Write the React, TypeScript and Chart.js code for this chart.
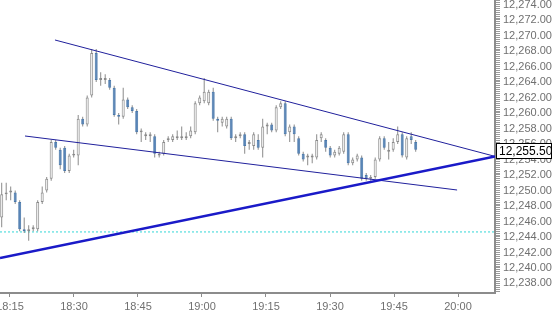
import { useEffect, useRef } from 'react';
import { Chart, registerables } from 'chart.js';

Chart.register(...registerables);

// ---- data: one bar per entry (bar index 0..92) ----
const opens = [
  12246.5, 12249.5, 12249.75, 12249.75, 12248.5, 12245.0, 12244.75, 12245.0, 12245.0, 12248.5,
  12250.0, 12251.5, 12256.25, 12255.25, 12255.5, 12252.5, 12254.5, 12254.5, 12259.25, 12258.5,
  12262.25, 12267.75, 12264.25, 12264.25, 12264.25, 12263.25, 12259.75, 12259.5, 12261.75, 12260.75,
  12260.25, 12257.5, 12257.0, 12257.0, 12257.0, 12254.5, 12254.75, 12256.5, 12256.5, 12256.75,
  12256.75, 12256.75, 12257.0, 12257.5, 12261.25, 12261.5, 12261.25, 12262.75, 12259.25, 12258.75,
  12258.25, 12259.25, 12256.75, 12257.0, 12257.25, 12256.0, 12255.75, 12256.5, 12255.5, 12258.25,
  12258.5, 12257.75, 12260.75, 12261.25, 12257.5, 12258.25, 12256.75, 12254.75, 12254.25, 12254.25,
  12254.25, 12256.75, 12256.5, 12255.5, 12254.5, 12254.75, 12255.0, 12257.25, 12253.5, 12254.0,
  12254.25, 12252.0, 12251.5, 12251.75, 12254.0, 12256.75, 12255.0, 12255.25, 12256.25, 12257.25,
  12254.25, 12257.0, 12256.25,
];
const highs = [
  12251.0, 12251.0, 12250.5, 12250.0, 12248.75, 12246.5, 12245.5, 12245.5, 12248.75, 12250.5,
  12251.75, 12256.5, 12256.5, 12255.5, 12255.75, 12254.75, 12255.25, 12259.75, 12259.5, 12262.25,
  12268.25, 12268.25, 12265.25, 12265.0, 12264.5, 12263.5, 12260.0, 12263.25, 12262.0, 12261.0,
  12260.5, 12258.0, 12257.5, 12257.5, 12257.25, 12255.0, 12256.5, 12257.0, 12257.25, 12257.75,
  12258.25, 12257.5, 12258.25, 12261.5, 12262.25, 12264.5, 12263.0, 12263.25, 12259.5, 12259.5,
  12259.5, 12259.5, 12257.25, 12257.5, 12257.5, 12256.5, 12257.5, 12257.25, 12259.25, 12258.75,
  12258.75, 12261.0, 12261.5, 12261.5, 12258.5, 12258.5, 12257.0, 12255.0, 12254.75, 12254.75,
  12257.25, 12257.5, 12256.75, 12255.75, 12255.25, 12255.75, 12257.5, 12257.5, 12254.25, 12254.75,
  12254.5, 12252.25, 12252.0, 12254.25, 12257.0, 12257.0, 12256.25, 12256.75, 12258.25, 12257.5,
  12257.0, 12257.5, 12256.5,
];
const lows = [
  12245.25, 12248.75, 12248.75, 12248.25, 12244.75, 12244.5, 12243.5, 12244.75, 12244.75, 12248.25,
  12249.75, 12251.25, 12255.25, 12252.75, 12252.25, 12252.25, 12254.25, 12253.25, 12258.25, 12258.25,
  12262.0, 12264.0, 12263.5, 12263.75, 12263.0, 12259.5, 12258.5, 12259.25, 12260.5, 12260.0,
  12257.25, 12256.25, 12256.5, 12256.25, 12254.25, 12254.25, 12254.5, 12256.25, 12256.25, 12256.5,
  12256.5, 12256.5, 12256.75, 12257.25, 12261.0, 12261.25, 12261.0, 12259.0, 12257.5, 12258.25,
  12258.0, 12256.5, 12256.25, 12256.75, 12254.75, 12255.25, 12255.25, 12255.25, 12254.25, 12257.25,
  12257.5, 12257.5, 12260.5, 12257.0, 12256.25, 12256.25, 12254.5, 12253.75, 12253.25, 12253.5,
  12254.0, 12256.25, 12255.0, 12254.25, 12254.25, 12254.5, 12254.75, 12253.25, 12253.25, 12253.75,
  12251.25, 12251.25, 12251.25, 12251.5, 12253.75, 12255.25, 12254.0, 12255.0, 12256.0, 12254.25,
  12254.0, 12256.0, 12255.0,
];
const closes = [
  12249.5, 12249.75, 12250.0, 12248.5, 12245.0, 12244.75, 12245.0, 12245.25, 12248.5, 12249.75,
  12251.5, 12256.25, 12255.5, 12253.25, 12252.5, 12254.5, 12254.75, 12259.25, 12258.5, 12262.0,
  12267.75, 12264.25, 12264.5, 12264.5, 12263.25, 12259.75, 12259.5, 12261.75, 12260.75, 12260.25,
  12257.5, 12257.75, 12257.25, 12257.25, 12254.75, 12254.75, 12256.25, 12256.75, 12257.0, 12257.0,
  12257.0, 12257.0, 12257.75, 12261.25, 12262.0, 12262.75, 12262.75, 12259.25, 12259.0, 12259.25,
  12259.25, 12256.75, 12257.0, 12257.25, 12255.75, 12256.25, 12257.25, 12255.5, 12258.25, 12258.5,
  12257.75, 12260.75, 12261.25, 12257.25, 12258.25, 12257.25, 12254.75, 12254.0, 12254.5, 12254.5,
  12256.5, 12257.25, 12255.5, 12254.5, 12255.0, 12255.5, 12257.25, 12253.5, 12254.0, 12254.5,
  12251.5, 12251.5, 12251.75, 12254.0, 12256.75, 12255.5, 12255.25, 12256.25, 12257.25, 12254.5,
  12256.75, 12256.5, 12255.25,
];

// time axis labels (every 15 minutes)
const xTickLabels = ['18:15', '18:30', '18:45', '19:00', '19:15', '19:30', '19:45', '20:00'];
const firstTickBar = 1.844; // bar position of the 18:15 label
const barsPerTick = 14.222; // bars between two labels

// drawn lines: [bar, price] at both ends
const upperLineBars = [11.84, 109.62];
const upperLinePrices = [12269.42, 12254.4];
const lowerLineBars = [5.18, 101.2];
const lowerLinePrices = [12257.03, 12250.06];
const supportLineBars = [-0.378, 109.62];
const supportLinePrices = [12241.29, 12254.4];
const cyanLevel = 12244.65;
const markerText = 12255.5;
const markerPrice = 12255.05; // where the marker box sits on the price axis

// visible ranges
const xMin = -0.378;
const xMax = 109.62;
const yMin = 12236.77;
const yMax = 12274.58;

const FONT = '"Liberation Sans", Arial, sans-serif';

function fmtPrice(v: number) {
  return v.toLocaleString('en-US', { minimumFractionDigits: 2, maximumFractionDigits: 2 });
}

export default function App() {
  const ref = useRef<HTMLCanvasElement>(null);

  useEffect(() => {
    const canvas = ref.current;
    if (!canvas) return;
    const idx = opens.map((_, i) => i);
    const wicks = idx.map((i) => ({ x: i, y: [lows[i], highs[i]] }));
    const bodies = idx.map((i) => ({ x: i, y: [opens[i], closes[i]] }));
    const up = idx.map((i) => closes[i] >= opens[i]);

    const markerPlugin = {
      id: 'priceMarker',
      afterDraw(chart: any) {
        const ys = chart.scales.y;
        const c = chart.ctx as CanvasRenderingContext2D;
        const y = Math.round(ys.getPixelForValue(markerPrice));
        const left = chart.chartArea.right + 1;
        c.save();
        c.fillStyle = '#ffffff';
        c.fillRect(left, y - 8, 56, 16);
        c.strokeStyle = '#000000';
        c.lineWidth = 1;
        c.strokeRect(left + 0.5, y - 7.5, 55, 15);
        c.fillStyle = '#000000';
        c.font = `12px ${FONT}`;
        c.textAlign = 'left';
        c.textBaseline = 'middle';
        c.fillText(fmtPrice(markerText), left + 3, y + 0.5);
        c.restore();
      },
    };

    const lineDs = (bars: number[], prices: number[], color: string, width: number, order: number, dash?: number[]) => ({
      type: 'line' as const,
      data: bars.map((b, i) => ({ x: b, y: prices[i] })),
      borderColor: color,
      borderWidth: width,
      borderDash: dash || [],
      pointRadius: 0,
      tension: 0,
      fill: false,
      order,
    });

    const chart = new Chart(canvas, {
      type: 'bar',
      data: {
        datasets: [
          lineDs([xMin, xMax], [cyanLevel, cyanLevel], '#33d6d6', 1, 10, [2, 2]) as any,
          {
            type: 'bar',
            data: wicks as any,
            backgroundColor: '#8a8a8a',
            borderWidth: 0,
            barThickness: 1,
            grouped: false,
            inflateAmount: 0,
            order: 5,
          },
          {
            type: 'bar',
            data: bodies as any,
            backgroundColor: up.map((u) => (u ? '#ffffff' : '#4a80bd')),
            borderColor: up.map((u) => (u ? '#8a8a8a' : '#4a78aa')),
            borderWidth: 1,
            borderSkipped: false,
            barThickness: 3,
            grouped: false,
            inflateAmount: 0,
            order: 4,
          },
          lineDs(upperLineBars, upperLinePrices, '#20209c', 1, 2) as any,
          lineDs(lowerLineBars, lowerLinePrices, '#20209c', 1, 2) as any,
          lineDs(supportLineBars, supportLinePrices, '#1a1ac8', 2.5, 1) as any,
        ],
      },
      options: {
        animation: false,
        responsive: false,
        devicePixelRatio: 1,
        layout: { padding: 0 },
        plugins: { legend: { display: false }, tooltip: { enabled: false } },
        scales: {
          x: {
            type: 'linear',
            min: xMin,
            max: xMax,
            bounds: 'data',
            offset: false,
            grid: { display: true, drawOnChartArea: false, drawTicks: true, tickLength: 4, tickColor: '#8c8c8c', offset: false },
            border: { display: true, color: '#8c8c8c', width: 2 },
            ticks: {
              color: '#707070',
              font: { family: FONT, size: 11 },
              padding: 3,
              autoSkip: false,
              maxRotation: 0,
              callback: (_v: any, i: number) => xTickLabels[i],
            },
            afterBuildTicks: (s: any) => {
              s.ticks = xTickLabels.map((_, i) => ({ value: firstTickBar + i * barsPerTick }));
            },
            afterFit: (s: any) => {
              s.height = 22;
              s.paddingLeft = 0;
              s.paddingRight = 0;
            },
          },
          y: {
            type: 'linear',
            position: 'right',
            min: yMin,
            max: yMax,
            bounds: 'data',
            grid: { display: true, drawOnChartArea: false, drawTicks: true, tickLength: 5, tickColor: '#9a9a9a' },
            border: { display: true, color: '#8c8c8c', width: 2 },
            ticks: {
              color: '#707070',
              font: { family: FONT, size: 11 },
              padding: 3,
              autoSkip: false,
              callback: (v: any) => (Number(v) % 2 === 0 ? fmtPrice(Number(v)) : ''),
            },
            afterBuildTicks: (s: any) => {
              const t: { value: number }[] = [];
              for (let v = Math.ceil(yMin * 4) / 4; v <= yMax; v += 0.25) t.push({ value: v });
              s.ticks = t;
            },
            afterFit: (s: any) => {
              s.width = 58;
              s.paddingTop = 0;
              s.paddingBottom = 0;
            },
          },
        },
      } as any,
      plugins: [markerPlugin],
    });
    return () => chart.destroy();
  }, []);

  return (
    <div style={{ position: 'fixed', left: 0, top: 0, width: 553, height: 315, background: '#ffffff' }}>
      <canvas ref={ref} width={553} height={315} style={{ display: 'block' }} />
    </div>
  );
}
